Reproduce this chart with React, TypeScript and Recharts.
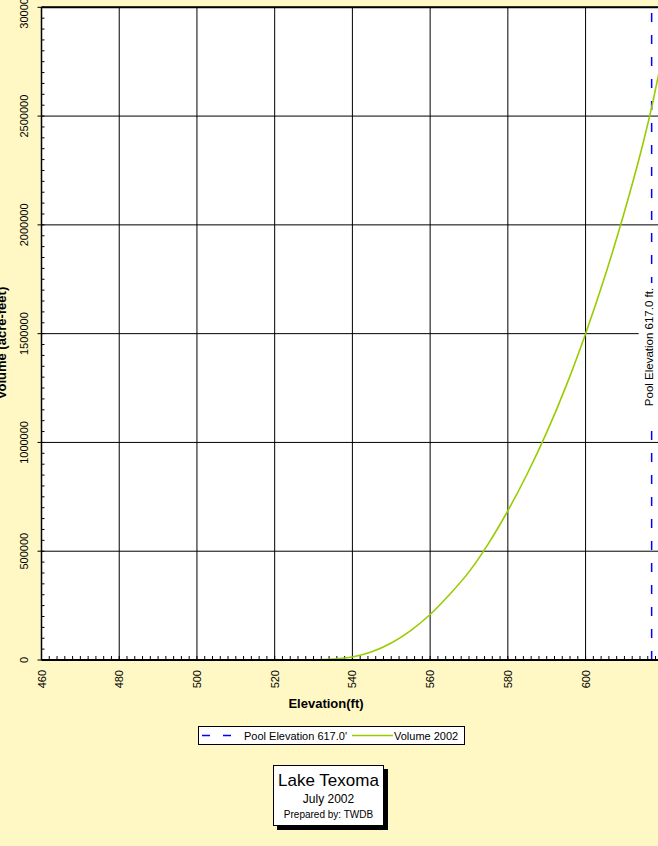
import React from 'react';
import { LineChart, Line, XAxis, YAxis, CartesianGrid, ReferenceLine, Label } from 'recharts';

// ---- data ----
const ELEVATIONS = [520, 525, 530, 535, 540, 545, 550, 555, 560, 565, 570, 575, 580, 585, 590, 595, 600, 605, 610, 615, 617, 620];
const VOLUMES_2002 = [0, 0, 500, 4000, 14000, 38000, 78000, 135000, 209000, 301000, 405000, 535000, 686000, 856000, 1046000, 1260000, 1500000, 1765000, 2060000, 2390000, 2540000, 2800000];
const POOL_ELEVATION = 617;
const X_TICKS = [460, 480, 500, 520, 540, 560, 580, 600, 620];
const Y_TICKS = [0, 500000, 1000000, 1500000, 2000000, 2500000, 3000000];
const X_DOMAIN = [460, 620];
const Y_DOMAIN = [0, 3000000];
const X_MINOR_STEP = 2;
const Y_MINOR_STEP = 50000;
const SERIES_NAMES = ["Pool Elevation 617.0'", 'Volume 2002'];
const POOL_LABEL = 'Pool Elevation 617.0 ft.';
const X_TITLE = 'Elevation(ft)';
const Y_TITLE = 'Volume (acre-feet)';
const TITLE_LINES = ['Lake Texoma', 'July 2002', 'Prepared by: TWDB'];

const X_MINOR_TICKS: number[] = [];
for (let v = X_DOMAIN[0] + X_MINOR_STEP; v < X_DOMAIN[1]; v += X_MINOR_STEP) X_MINOR_TICKS.push(v);
const Y_MINOR_TICKS: number[] = [];
for (let v = Y_DOMAIN[0]; v <= Y_DOMAIN[1]; v += Y_MINOR_STEP) Y_MINOR_TICKS.push(v);

const chartData = ELEVATIONS.map((e, i) => ({ elev: e, vol: VOLUMES_2002[i] }));

const FONT = "Arial, 'Liberation Sans', Helvetica, sans-serif";
const BG = '#FFF8C5';
const POOL_COLOR = '#0000FF';
const VOL_COLOR = '#99CC00';

const XTick = (props: any) => {
  const { x, y, payload } = props;
  return (
    <text x={x} y={y} dy={4} transform={`rotate(-90, ${x}, ${y})`} textAnchor="end" fontSize={11} fill="#000" fontFamily={FONT}>
      {payload.value}
    </text>
  );
};

const YTick = (props: any) => {
  const { x, y, payload } = props;
  return (
    <text x={x} y={y} transform={`rotate(-90, ${x}, ${y})`} textAnchor="middle" fontSize={11} fill="#000" fontFamily={FONT}>
      {payload.value}
    </text>
  );
};

const EmptyTick = () => <g />;

// small inward tick at the bottom end of a vertical reference line
const MinorXTickShape = (props: any) => {
  const { x1, y1, y2 } = props;
  if (x1 == null || y1 == null || y2 == null) return <g />;
  const yb = Math.max(Number(y1), Number(y2));
  return <line x1={x1} x2={x1} y1={yb} y2={yb - 4} stroke="#000" strokeWidth={1} />;
};

const PoolLabel = (props: any) => {
  const vb = props.viewBox || {};
  const x = vb.x;
  const cy = 347;
  return (
    <g>
      <rect x={x - 13} y={283} width={28} height={148} fill="#fff" />
      <text x={x + 1} y={cy} transform={`rotate(-90, ${x + 1}, ${cy})`} textAnchor="middle" fontSize={11.5} fill="#000" fontFamily={FONT}>
        {POOL_LABEL}
      </text>
    </g>
  );
};

const XTitle = () => (
  <text x={326} y={707.5} textAnchor="middle" fontSize={13} fontWeight="bold" fill="#000" fontFamily={FONT}>
    {X_TITLE}
  </text>
);

const YTitle = () => (
  <text x={6} y={343} transform="rotate(-90, 6, 343)" textAnchor="middle" fontSize={13} fontWeight="bold" fill="#000" fontFamily={FONT}>
    {Y_TITLE}
  </text>
);

export default function App() {
  return (
    <div
      style={{
        position: 'absolute',
        left: 0,
        top: 0,
        width: 658,
        height: 846,
        overflow: 'hidden',
        background: BG,
        fontFamily: FONT,
      }}
    >
      <div style={{ position: 'absolute', left: 0, top: 0 }}>
        <LineChart width={680} height={720} data={chartData} margin={{ top: 7.3, right: 16.7, bottom: 0, left: 0 }}>
          <CartesianGrid stroke="#000" strokeWidth={1} fill="#fff" />
          <XAxis
            dataKey="elev"
            type="number"
            domain={X_DOMAIN}
            ticks={X_TICKS}
            interval={0}
            tickSize={0}
            tickMargin={10}
            tick={<XTick />}
            axisLine={{ stroke: '#000', strokeWidth: 2 }}
            height={60}
            allowDataOverflow
          >
            <Label content={<XTitle />} />
          </XAxis>
          <YAxis
            type="number"
            domain={Y_DOMAIN}
            ticks={Y_TICKS}
            interval={0}
            tickSize={4}
            tickMargin={9.5}
            tick={<YTick />}
            tickLine={{ stroke: '#000' }}
            axisLine={{ stroke: '#000', strokeWidth: 1.5 }}
            width={41.5}
            allowDataOverflow
          >
            <Label content={<YTitle />} />
          </YAxis>
          <YAxis
            yAxisId="minor"
            type="number"
            domain={Y_DOMAIN}
            ticks={Y_MINOR_TICKS}
            interval={0}
            mirror
            tick={<EmptyTick />}
            tickSize={3}
            tickMargin={0}
            tickLine={{ stroke: '#000', strokeWidth: 1 }}
            axisLine={false}
            width={1}
            allowDataOverflow
          />
          {X_MINOR_TICKS.map((v) => (
            <ReferenceLine key={`mx-${v}`} x={v} stroke="#000" shape={<MinorXTickShape />} />
          ))}
          <ReferenceLine y={Y_DOMAIN[1]} stroke="#000" strokeWidth={2} />
          <ReferenceLine x={X_DOMAIN[1]} stroke="#000" strokeWidth={2} />
          <ReferenceLine
            x={POOL_ELEVATION}
            stroke={POOL_COLOR}
            strokeWidth={1.5}
            strokeDasharray="9 13"
            label={<PoolLabel />}
          />
          <Line
            dataKey="vol"
            name={SERIES_NAMES[1]}
            type="monotone"
            stroke={VOL_COLOR}
            strokeWidth={1.6}
            dot={false}
            activeDot={false}
            isAnimationActive={false}
          />
        </LineChart>
      </div>

      {/* legend */}
      <div
        style={{
          position: 'absolute',
          left: 198,
          top: 726,
          width: 267,
          height: 19,
          boxSizing: 'border-box',
          border: '1px solid #000',
          background: '#fff',
        }}
      >
        <svg width={265} height={17} style={{ display: 'block' }}>
          <line x1={3} x2={34} y1={8.5} y2={8.5} stroke={POOL_COLOR} strokeWidth={1.3} strokeDasharray="8 13" />
          <text x={45} y={12.5} fontSize={11} fill="#000" fontFamily={FONT}>{SERIES_NAMES[0]}</text>
          <line x1={153} x2={194} y1={8.5} y2={8.5} stroke={VOL_COLOR} strokeWidth={1.6} />
          <text x={195} y={12.5} fontSize={11} fill="#000" fontFamily={FONT}>{SERIES_NAMES[1]}</text>
        </svg>
      </div>

      {/* title box */}
      <div
        style={{
          position: 'absolute',
          left: 273,
          top: 765,
          width: 111,
          height: 61,
          boxSizing: 'border-box',
          border: '1px solid #000',
          background: '#fff',
          boxShadow: '4px 4px 0 #000',
        }}
      >
        <svg width={109} height={59} style={{ display: 'block' }}>
          <text x={54.5} y={19.5} textAnchor="middle" fontSize={17} fill="#000" fontFamily={FONT}>{TITLE_LINES[0]}</text>
          <text x={54.5} y={36.5} textAnchor="middle" fontSize={12} fill="#000" fontFamily={FONT}>{TITLE_LINES[1]}</text>
          <text x={54.5} y={51.5} textAnchor="middle" fontSize={10} fill="#000" fontFamily={FONT}>{TITLE_LINES[2]}</text>
        </svg>
      </div>
    </div>
  );
}
